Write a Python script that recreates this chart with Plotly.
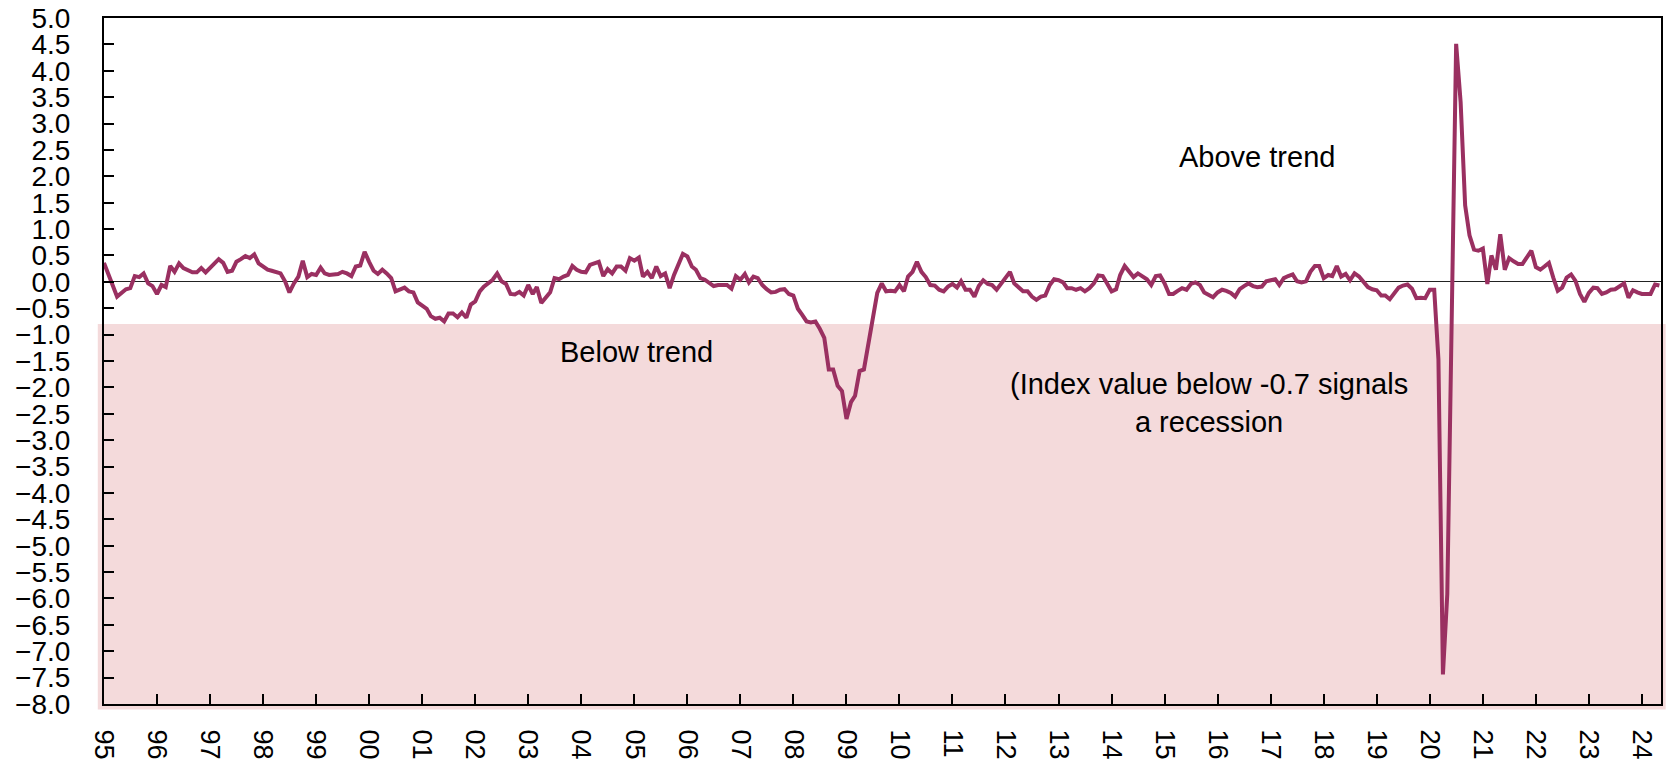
import pandas as pd
import plotly.graph_objects as go

# monthly index values (3-month average), Jan 1995 onwards
vals_1995_1999 = [
    0.36, 0.16, -0.06, -0.28, -0.21, -0.14, -0.12, 0.11, 0.09, 0.16, -0.03, -0.08,
    -0.23, -0.06, -0.10, 0.30, 0.19, 0.35, 0.26, 0.21, 0.18, 0.18, 0.26, 0.18,
    0.26, 0.34, 0.43, 0.36, 0.19, 0.21, 0.38, 0.43, 0.49, 0.45, 0.52, 0.35,
    0.30, 0.23, 0.21, 0.19, 0.16, 0.01, -0.20, -0.03, 0.10, 0.40, 0.09, 0.15,
    0.13, 0.27, 0.16, 0.13, 0.14, 0.15, 0.19, 0.16, 0.11, 0.29, 0.31, 0.57,
]
vals_2000_2004 = [
    0.38, 0.21, 0.15, 0.23, 0.16, 0.07, -0.18, -0.15, -0.11, -0.18, -0.20, -0.39,
    -0.45, -0.51, -0.65, -0.70, -0.68, -0.75, -0.60, -0.60, -0.67, -0.58, -0.68, -0.43,
    -0.37, -0.18, -0.09, -0.03, 0.04, 0.16, 0.01, -0.04, -0.23, -0.24, -0.19, -0.26,
    -0.06, -0.23, -0.10, -0.40, -0.29, -0.20, 0.07, 0.05, 0.10, 0.13, 0.30, 0.23,
    0.19, 0.18, 0.32, 0.35, 0.38, 0.11, 0.24, 0.16, 0.29, 0.29, 0.21, 0.45,
]
vals_2005_2009 = [
    0.40, 0.46, 0.10, 0.19, 0.07, 0.29, 0.11, 0.16, -0.12, 0.13, 0.35, 0.53,
    0.48, 0.29, 0.23, 0.07, 0.04, -0.03, -0.08, -0.06, -0.06, -0.06, -0.13, 0.11,
    0.04, 0.15, -0.01, 0.10, 0.07, -0.06, -0.14, -0.20, -0.19, -0.15, -0.14, -0.23,
    -0.26, -0.51, -0.62, -0.75, -0.77, -0.75, -0.89, -1.06, -1.66, -1.66, -1.97, -2.07,
    -2.60, -2.28, -2.16, -1.69, -1.66, -1.19, -0.68, -0.21, -0.03, -0.18, -0.17, -0.18,
]
vals_2010_2014 = [
    -0.06, -0.18, 0.10, 0.19, 0.38, 0.19, 0.09, -0.06, -0.07, -0.15, -0.18, -0.09,
    -0.04, -0.11, 0.01, -0.15, -0.15, -0.28, -0.08, 0.03, -0.04, -0.06, -0.15, -0.03,
    0.08, 0.19, -0.03, -0.12, -0.18, -0.18, -0.28, -0.34, -0.28, -0.26, -0.06, 0.05,
    0.03, -0.01, -0.12, -0.12, -0.15, -0.12, -0.18, -0.12, -0.03, 0.12, 0.11, -0.03,
    -0.18, -0.14, 0.13, 0.30, 0.19, 0.09, 0.16, 0.10, 0.05, -0.06, 0.11, 0.12,
]
vals_2015_2019 = [
    -0.03, -0.23, -0.23, -0.17, -0.12, -0.15, -0.04, -0.01, -0.06, -0.20, -0.24, -0.29,
    -0.20, -0.15, -0.17, -0.21, -0.28, -0.14, -0.08, -0.03, -0.08, -0.10, -0.09, 0.01,
    0.03, 0.05, -0.06, 0.07, 0.11, 0.14, 0.01, -0.01, 0.01, 0.19, 0.30, 0.30,
    0.07, 0.13, 0.11, 0.30, 0.10, 0.15, 0.03, 0.16, 0.10, -0.01, -0.10, -0.14,
    -0.16, -0.26, -0.26, -0.33, -0.21, -0.11, -0.07, -0.05, -0.13, -0.31, -0.30, -0.31,
]
vals_2020_2024 = [
    -0.15, -0.15, -1.47, -7.44, -5.92, -0.90, 4.51, 3.40, 1.45, 0.88, 0.61, 0.59,
    0.63, -0.04, 0.50, 0.23, 0.90, 0.23, 0.45, 0.39, 0.34, 0.34, 0.48, 0.59,
    0.28, 0.23, 0.29, 0.36, 0.08, -0.17, -0.11, 0.08, 0.14, 0.02, -0.23, -0.38,
    -0.21, -0.11, -0.12, -0.23, -0.20, -0.15, -0.14, -0.08, -0.03, -0.30, -0.16, -0.20,
    -0.23, -0.23, -0.23, -0.05, -0.07,
]
values = (vals_1995_1999 + vals_2000_2004 + vals_2005_2009
          + vals_2010_2014 + vals_2015_2019 + vals_2020_2024)
dates = pd.date_range("1995-01-01", periods=len(values), freq="MS")

years = list(range(1995, 2025))
year_ticks = [f"{y}-01-01" for y in years]
year_labels = [str(y)[2:] for y in years]

RECESSION_LEVEL = -0.8
Y_MIN, Y_MAX = -8.0, 5.0
LINE_COLOR = "#9A3061"
SHADE_COLOR = "#F4DADB"
FONT = "Liberation Sans, Arial, sans-serif"

fig = go.Figure()
fig.add_trace(go.Scatter(x=dates, y=values, mode="lines",
                         line=dict(color=LINE_COLOR, width=4),
                         showlegend=False))

# pink band below the recession threshold
shade_top = (RECESSION_LEVEL - Y_MIN) / (Y_MAX - Y_MIN)
fig.add_shape(type="rect", xref="paper", yref="paper",
              x0=-0.004, x1=1.003, y0=-0.008, y1=shade_top,
              fillcolor=SHADE_COLOR, line_width=0, layer="below")

fig.add_annotation(x="2016-10-01", y=2.37, text="Above trend", showarrow=False,
                   font=dict(size=29, color="black", family=FONT))
fig.add_annotation(x="2005-01-15", y=-1.33, text="Below trend", showarrow=False,
                   font=dict(size=29, color="black", family=FONT))
fig.add_annotation(x="2015-11-01", y=-2.3,
                   text="(Index value below -0.7 signals<br>a recession",
                   showarrow=False,
                   font=dict(size=29, color="black", family=FONT))

fig.update_layout(
    width=1666, height=762,
    margin=dict(l=104, r=3, t=14, b=57),
    paper_bgcolor="white", plot_bgcolor="white",
    font=dict(family=FONT, color="black", size=28),
)
fig.update_xaxes(type="date", range=["1995-01-01", "2024-05-12"],
                 tickvals=year_ticks, ticktext=year_labels, tickangle=90,
                 ticks="inside", ticklen=10, tickwidth=1.5, tickcolor="black",
                 showline=True, linecolor="black", linewidth=2, mirror=True,
                 showgrid=False, zeroline=False, ticklabeloverflow="allow",
                 tickfont=dict(size=27), ticklabelstandoff=18)
fig.update_yaxes(range=[Y_MIN, Y_MAX], dtick=0.5, tick0=0, tickformat=".1f",
                 ticks="inside", ticklen=10, tickwidth=1.5, tickcolor="black",
                 showline=True, linecolor="black", linewidth=2, mirror=True,
                 showgrid=False, zeroline=True, zerolinecolor="#222222",
                 zerolinewidth=1, ticklabeloverflow="allow",
                 tickfont=dict(size=28), ticklabelstandoff=26)

# page body has a default 8px margin; drop it so the figure sits at the corner
fig.write_html("out.html", config={"displayModeBar": False},
               post_script="document.body.style.margin='0';")
